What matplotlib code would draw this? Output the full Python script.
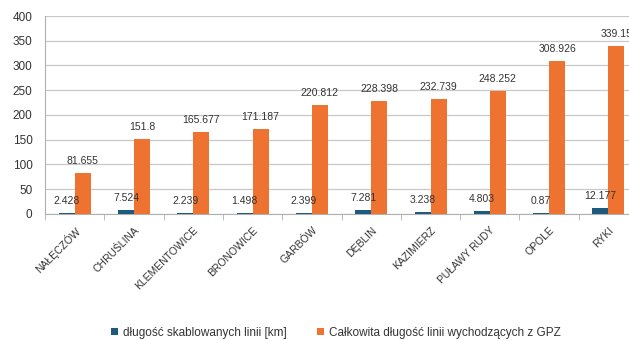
import numpy as np
import matplotlib
matplotlib.use("Agg")
import matplotlib.pyplot as plt
from matplotlib.ticker import FixedLocator

plt.rcParams['font.family'] = ['Liberation Sans', 'DejaVu Sans']

stations = ['NAŁĘCZÓW', 'CHRUŚLINA', 'KLEMENTOWICE', 'BRONOWICE', 'GARBÓW',
            'DĘBLIN', 'KAZIMIERZ', 'PUŁAWY RUDY', 'OPOLE', 'RYKI']
cabled = [2.428, 7.524, 2.239, 1.498, 2.399, 7.281, 3.238, 4.803, 0.87, 12.177]
total = [81.655, 151.8, 165.677, 171.187, 220.812, 228.398, 232.739, 248.252, 308.926, 339.15]
cabled_labels = ['2.428', '7.524', '2.239', '1.498', '2.399', '7.281', '3.238', '4.803', '0.87', '12.177']
total_labels = ['81.655', '151.8', '165.677', '171.187', '220.812', '228.398', '232.739', '248.252', '308.926', '339.15']
yticks = [0, 50, 100, 150, 200, 250, 300, 350, 400]

blue = '#1d5a80'
orange = '#ee7330'
txt = '#333333'

fig = plt.figure(figsize=(6.29, 3.41), dpi=100)
ax = fig.add_axes([0.0715, 0.373, 0.943, 0.580])

x = np.arange(len(stations))
w = 0.27
b1 = ax.bar(x - w / 2, cabled, w, color=blue, label='długość skablowanych linii [km]', zorder=3)
b2 = ax.bar(x + w / 2, total, w, color=orange, label='Całkowita długość linii wychodzących z GPZ', zorder=3)

for bars, labs in ((b1, cabled_labels), (b2, total_labels)):
    for r, lab in zip(bars, labs):
        ax.annotate(lab, (r.get_x() + r.get_width() / 2, r.get_height()),
                    xytext=(0, 5), textcoords='offset points',
                    ha='center', va='bottom', fontsize=7.5, color=txt,
                    annotation_clip=False)

ax.set_xlim(-0.5, len(stations) - 0.5)
ax.set_ylim(0, 400)
ax.set_yticks(yticks)
ax.yaxis.grid(True, color='#c8c8c8', linewidth=0.9, zorder=0)
ax.tick_params(axis='y', length=0, labelsize=8.5, labelcolor=txt, pad=9)

ax.set_xticks(x)
ax.set_xticklabels(stations, rotation=45, ha='right', rotation_mode='anchor',
                   fontsize=7.5, color=txt)
ax.tick_params(axis='x', length=0, pad=8)
ax.xaxis.set_minor_locator(FixedLocator(np.arange(-0.5, len(stations), 1.0)))
ax.tick_params(axis='x', which='minor', length=4, color='#b0b0b0')

for s in ('top', 'right'):
    ax.spines[s].set_visible(False)
ax.spines['left'].set_color('#b0b0b0')
ax.spines['bottom'].set_color('#b0b0b0')

fig.legend(loc='center', bbox_to_anchor=(0.534, 0.024), ncol=2, frameon=False,
           fontsize=8.5, handlelength=0.6, handleheight=0.6, handletextpad=0.4,
           columnspacing=2.6, labelcolor=txt)

fig.savefig('out.png', dpi=100)
